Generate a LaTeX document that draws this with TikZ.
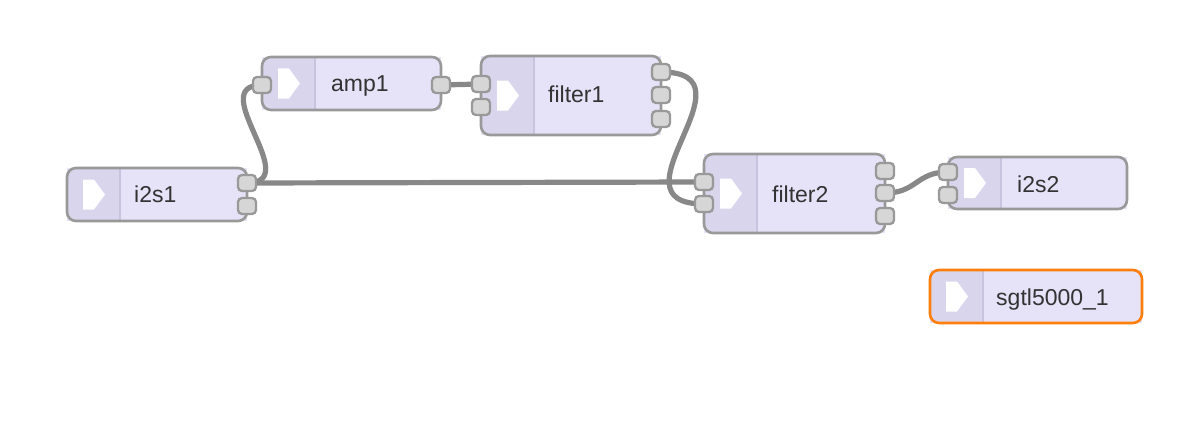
\documentclass[tikz,border=0pt]{standalone}
\usepackage{fontspec}
\setmainfont{Liberation Sans}
\usetikzlibrary{backgrounds}
\definecolor{boxfill}{RGB}{230,226,248}
\definecolor{stripfill}{RGB}{217,213,236}
\definecolor{divcol}{RGB}{200,195,222}
\definecolor{bordergray}{RGB}{153,153,153}
\definecolor{portfill}{RGB}{214,214,214}
\definecolor{wiregray}{RGB}{136,136,136}
\definecolor{selorange}{RGB}{255,127,14}
\definecolor{textcol}{RGB}{51,51,51}
\tikzset{
  boxbody/.style={inner sep=0pt, outer sep=0pt, fill=boxfill, draw=none},
  normalborder/.style={draw=bordergray, line width=2.6pt},
  selborder/.style={draw=selorange, line width=2.6pt},
  divline/.style={draw=divcol, line width=1.5pt},
  port/.style={draw=bordergray, fill=portfill, line width=2.3pt, rounded corners=4pt,
    minimum width=18pt, minimum height=16pt, inner sep=0pt},
  wire/.style={draw=wiregray, line width=5.2pt},
  flowlabel/.style={font=\fontsize{23}{27}\selectfont, text=textcol, inner sep=0pt}
}
% #1 name, #2 left, #3 top, #4 right, #5 bottom, #6 label x, #7 label baseline, #8 text, #9 border style
\newcommand\flowbox[9]{%
  \node[boxbody, anchor=north west, minimum width=#4pt-#2pt, minimum height=#5pt-#3pt] (#1) at (#2,#3) {};
  \begin{scope}
    \clip[rounded corners=9pt] (#1.north west) rectangle (#1.south east);
    \fill[stripfill] (#1.north west) rectangle ([xshift=53pt]#1.south west);
    \draw[divline] ([xshift=53pt]#1.north west) -- ([xshift=53pt]#1.south west);
  \end{scope}
  \fill[white] ([xshift=16pt]#1.west) ++(0,-15) -- ++(11,0) -- ++(11,15) -- ++(-11,15) -- ++(-11,0) -- cycle;
  \draw[#9, rounded corners=9pt] (#1.north west) rectangle (#1.south east);
  \node[flowlabel, anchor=base west] (#1-label) at (#6,#7) {#8};
}
\begin{document}
\begin{tikzpicture}[x=1pt, y=-1pt]
\useasboundingbox (0,0) rectangle (1204,428);

\flowbox{i2s1}{67}{168}{247}{221}{134}{202}{i2s1}{normalborder}
\flowbox{amp1}{262}{57}{441}{110}{331}{92}{amp1}{normalborder}
\flowbox{filter1}{481}{56}{661}{135}{548}{102}{filter1}{normalborder}
\flowbox{filter2}{704}{154}{885}{233}{772}{202}{filter2}{normalborder}
\flowbox{i2s2}{948}{157}{1127}{209}{1017}{192}{i2s2}{normalborder}
\flowbox{sgtl}{930}{270}{1142}{323}{996}{305}{sgtl5000\_1}{selborder}

% ports
\node[port] (i2s1-o0) at (247,183) {};
\node[port] (i2s1-o1) at (247,206) {};
\node[port] (amp1-i0) at (262,85) {};
\node[port] (amp1-o0) at (441,85) {};
\node[port] (filter1-i0) at (481,84) {};
\node[port] (filter1-i1) at (481,107) {};
\node[port] (filter1-o0) at (661,72) {};
\node[port] (filter1-o1) at (661,95) {};
\node[port] (filter1-o2) at (661,119) {};
\node[port] (filter2-i0) at (704,182) {};
\node[port] (filter2-i1) at (704,204) {};
\node[port] (filter2-o0) at (885,171) {};
\node[port] (filter2-o1) at (885,193) {};
\node[port] (filter2-o2) at (885,216) {};
\node[port] (i2s2-i0) at (948,172) {};
\node[port] (i2s2-i1) at (948,195) {};

\begin{pgfonlayer}{background}
\fill[white] (0,0) rectangle (1204,428);
\draw[wire] (i2s1-o0.center) .. controls +(58,0) and +(-58,0) .. (amp1-i0.center);
\draw[wire] (i2s1-o0.center) -- (filter2-i0.center);
\draw[wire] (amp1-o0.center) -- (filter1-i0.center);
\draw[wire] (filter1-o0.center) .. controls +(100,0) and +(-100,0) .. (filter2-i1.center);
\draw[wire] (filter2-o1.center) .. controls +(32,0) and +(-32,0) .. (i2s2-i0.center);
\end{pgfonlayer}
\end{tikzpicture}
\end{document}
